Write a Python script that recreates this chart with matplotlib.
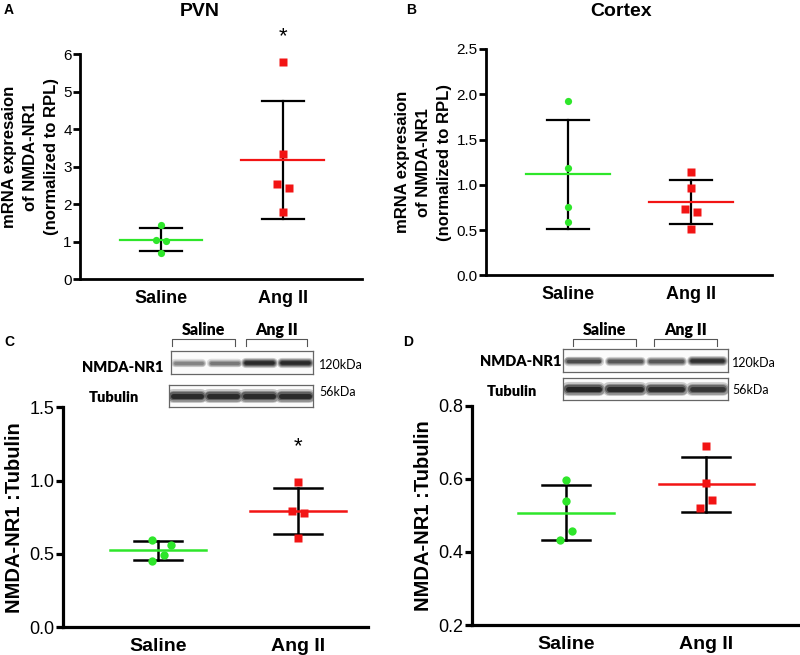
import numpy as np
import matplotlib
matplotlib.use('Agg')
import matplotlib.pyplot as plt

plt.rcParams['font.family'] = ['Liberation Sans', 'DejaVu Sans']

W, H = 800, 655
GREEN = '#2ee62a'
RED = '#f21414'

groups = ['Saline', 'Ang II']

# A: PVN mRNA (normalized to RPL)
pvn_saline = [1.45, 1.05, 1.02, 0.69]
pvn_ang = [5.80, 3.33, 2.53, 2.43, 1.78]
# B: cortex mRNA
ctx_saline = [1.93, 1.18, 0.755, 0.59]
ctx_ang = [1.145, 0.96, 0.733, 0.703, 0.512]
# C: PVN western blot, NMDA-NR1 / tubulin
wb_pvn_saline = [0.595, 0.56, 0.493, 0.452]
wb_pvn_ang = [0.993, 0.79, 0.78, 0.61]
# D: cortex western blot
wb_ctx_saline = [0.597, 0.54, 0.458, 0.433]
wb_ctx_ang = [0.689, 0.589, 0.542, 0.52]

# band darkness per lane (saline, saline, ang, ang)
blot_c_nr1 = [0.55, 0.6, 0.95, 0.95]
blot_c_tub = [0.95, 0.95, 0.95, 0.95]
blot_d_nr1 = [0.8, 0.75, 0.75, 0.92]
blot_d_tub = [0.97, 0.95, 0.93, 0.9]


def box(x0, y0, x1, y1):
    # pixel box (top-left origin) -> figure fraction rect
    return [x0 / W, 1 - y1 / H, (x1 - x0) / W, (y1 - y0) / H]


def dot_plot(ax, saline, ang, jit_s, jit_a, ms, lw):
    for pos, vals, jit, col, mk in [(1, saline, jit_s, GREEN, 'o'),
                                    (2, ang, jit_a, RED, 's')]:
        v = np.array(vals)
        m, sd = v.mean(), v.std(ddof=1)
        ax.plot([pos, pos], [m - sd, m + sd], color='black', lw=lw, zorder=2)
        for yy in (m - sd, m + sd):
            ax.plot([pos - 0.17, pos + 0.17], [yy, yy], color='black', lw=lw, zorder=2)
        ax.plot([pos - 0.34, pos + 0.34], [m, m], color=col, lw=lw, zorder=3)
        ax.plot(pos + np.array(jit), v, ls='none', marker=mk, color=col,
                ms=ms, mec='none', zorder=4, clip_on=False)


def style(ax, xlim, ylim, yticks, fmt, tick_fs, lab_fs, spine_w):
    ax.set_xlim(*xlim)
    ax.set_ylim(*ylim)
    ax.set_yticks(yticks)
    ax.set_yticklabels([fmt.format(t) for t in yticks], fontsize=tick_fs)
    ax.set_xticks([1, 2])
    ax.set_xticklabels(groups, fontsize=lab_fs, fontweight='bold')
    ax.tick_params(axis='x', length=0, pad=8)
    ax.tick_params(axis='y', length=5, width=spine_w, pad=1)
    for s in ['top', 'right']:
        ax.spines[s].set_visible(False)
    for s in ['left', 'bottom']:
        ax.spines[s].set_linewidth(spine_w)


def blot(rect, dark, thick):
    bx = fig.add_axes(rect)
    bx.set_xlim(0, 1)
    bx.set_ylim(0, 1)
    bx.set_xticks([])
    bx.set_yticks([])
    bx.set_facecolor('#fbfbfb')
    for s in bx.spines.values():
        s.set_color('#666666')
        s.set_linewidth(0.9)
    # soft edge: all wide light layers first, then darker cores
    for scale, f in [(1.7, 0.25), (1.35, 0.5), (1.0, 0.75), (0.6, 1.0)]:
        for i, d in enumerate(dark):
            xc = 0.125 + 0.25 * i
            w = thick * (0.6 + 0.5 * d)
            g = 1 - 0.88 * d * f
            bx.plot([xc - 0.095, xc + 0.095], [0.5, 0.5], color=str(round(g, 3)),
                    lw=w * scale, solid_capstyle='round')


fig = plt.figure(figsize=(8, 6.55), dpi=100)

ylab_mrna = 'mRNA expresaion\nof NMDA-NR1\n(normalized to RPL)'

# ---- A: PVN
axA = fig.add_axes(box(80, 54, 362, 279.3))
dot_plot(axA, pvn_saline, pvn_ang, [0, -0.045, 0.045, 0], [0, 0, -0.05, 0.05, 0], 5.2, 1.6)
style(axA, (0.336, 2.648), (0, 6), [0, 1, 2, 3, 4, 5, 6], '{:g}', 11, 13, 2.0)
axA.set_ylabel(ylab_mrna, fontsize=12, fontweight='bold', linespacing=1.5)
axA.yaxis.set_label_coords(-0.075, 0.545)
axA.text(2, 6.47, '*', ha='center', va='center', fontsize=16, clip_on=False)

# ---- B: Cortex
axB = fig.add_axes(box(486, 49, 772, 275.3))
dot_plot(axB, ctx_saline, ctx_ang, [0, 0, 0, 0], [0, 0, -0.05, 0.05, 0], 5.2, 1.6)
style(axB, (0.333, 2.659), (0, 2.5), [0, 0.5, 1.0, 1.5, 2.0, 2.5], '{:.1f}', 11, 13, 2.0)
axB.set_ylabel(ylab_mrna, fontsize=12, fontweight='bold', labelpad=3, linespacing=1.5)

# ---- C: PVN western
axC = fig.add_axes(box(63, 407.3, 368, 627.3))
dot_plot(axC, wb_pvn_saline, wb_pvn_ang, [-0.04, 0.09, 0.04, -0.04], [0, -0.045, 0.045, 0], 6, 1.8)
style(axC, (0.321, 2.5), (0, 1.5), [0, 0.5, 1.0, 1.5], '{:.1f}', 13, 14, 2.3)
axC.set_ylabel('NMDA-NR1 :Tubulin', fontsize=14.5, fontweight='bold', labelpad=4)
axC.text(2, 1.23, '*', ha='center', va='center', fontsize=16)

# ---- D: Cortex western
axD = fig.add_axes(box(471.7, 405.7, 800, 625))
dot_plot(axD, wb_ctx_saline, wb_ctx_ang, [0, 0, 0.045, -0.045], [0, 0, 0.045, -0.045], 6, 1.8)
style(axD, (0.326, 2.67), (0.2, 0.8), [0.2, 0.4, 0.6, 0.8], '{:.1f}', 13, 14, 2.3)
axD.set_ylabel('NMDA-NR1 :Tubulin', fontsize=14.5, fontweight='bold', labelpad=4)

# ---- blots
blot(box(171, 351, 313, 374), blot_c_nr1, 4)
blot(box(169, 385, 313, 407), blot_c_tub, 5.5)
blot(box(563, 349, 728, 372), blot_d_nr1, 4)
blot(box(563, 378, 728, 400), blot_d_tub, 5.5)

# overlay for free text and brackets, in pixel coords
ov = fig.add_axes([0, 0, 1, 1])
ov.set_xlim(0, W)
ov.set_ylim(H, 0)
ov.axis('off')

ov.text(200, 12, 'PVN', ha='center', va='center', fontsize=14, fontweight='bold')
ov.text(621, 12, 'Cortex', ha='center', va='center', fontsize=14, fontweight='bold')
for lx, ly, lab in [(4, 10, 'A'), (406, 10, 'B'), (4, 342, 'C'), (403, 342, 'D')]:
    ov.text(lx, ly, lab, ha='left', va='center', fontsize=10, fontweight='bold')

blot_font = ['Lato', 'DejaVu Sans']
for (sx0, sx1, ax0, ax1, nx, nyy, tx, tyy, kx, ky1, ky2) in [
        (172, 235, 246, 307, 163, 367, 89, 397, 319, 365, 392),
        (573, 636, 654, 717, 561, 362, 487, 391, 732, 363, 390)]:
    for x0, x1, lab in [(sx0, sx1, 'Saline'), (ax0, ax1, 'Ang II')]:
        ov.plot([x0, x0, x1, x1], [346, 339, 339, 346], color='#555555', lw=0.8)
        ov.text((x0 + x1) / 2, 330, lab, ha='center', va='center', fontsize=11.5,
                fontweight='heavy', family=blot_font)
    ov.text(nx, nyy, 'NMDA-NR1', ha='right', va='center', fontsize=10.5,
            fontweight='heavy', family=blot_font)
    ov.text(tx, tyy, 'Tubulin', ha='left', va='center', fontsize=10.5,
            fontweight='heavy', family=blot_font)
    ov.text(kx, ky1, '120kDa', ha='left', va='center', fontsize=9, family=blot_font)
    ov.text(kx, ky2, '56kDa', ha='left', va='center', fontsize=9, family=blot_font)

fig.savefig('out.png', dpi=100)
